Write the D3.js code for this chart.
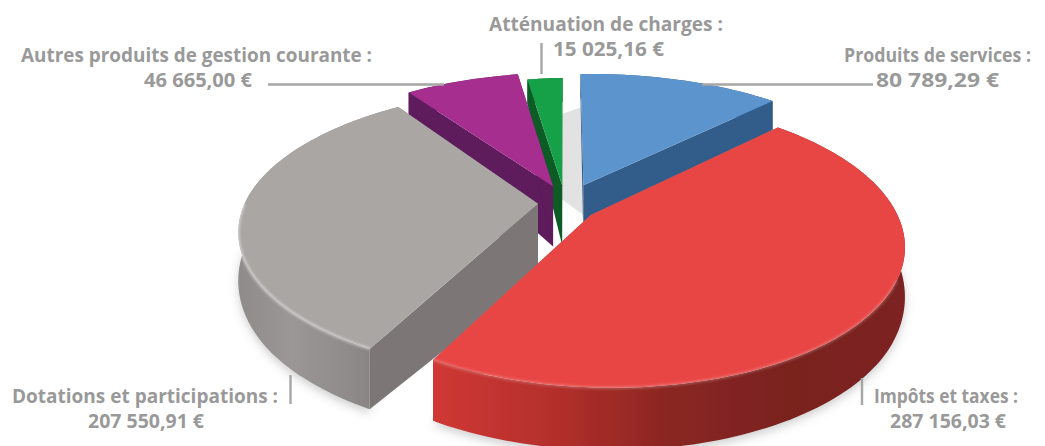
<!DOCTYPE html>
<html>
<head>
<meta charset="utf-8">
<script src="https://cdn.jsdelivr.net/npm/d3@7"></script>
<style>
html, body { margin: 0; padding: 0; background: #fff; }
svg { display: block; }
text { font-family: "Open Sans", sans-serif; font-weight: 700; fill: #999; font-size: 19px; text-anchor: middle; }
</style>
</head>
<body>
<div id="chart"></div>
<script>
// Data
var categories = ["Produits de services", "Impôts et taxes", "Dotations et participations", "Autres produits de gestion courante", "Atténuation de charges"];
var amounts = [80789.29, 287156.03, 207550.91, 46665.00, 15025.16];

// Slice styling, same order as categories
var topColors = ["#5c94cd", "#e84544", "#aaa6a4", "#a62e8e", "#17a047"];
var wallColors = ["#335c89", "#85807e", "#7b7776", "#5e1a5c", "#0f5c28"];
var sideStops = [
    ["#335c89", "#335c89"],
    ["#d03834", "#b42f2c", "#8a2622", "#7a221f", "#7c2320"],
    ["#8e8b8a", "#9a9796", "#8f8c8b", "#7f7c7b"],
    ["#5e1a5c", "#5e1a5c"],
    ["#0f5c28", "#0f5c28"]
];
// how far each slice is pulled out of the centre, and its radius
var pullX = [0.065, 0.087, -0.093, -0.042, -0.01];
var pullY = [-0.135, 0.087, 0.005, -0.126, -0.135];
var radiusX = [1.04, 0.99, 1.09, 1.07, 1];
var radiusY = [1.04, 1, 1.04, 1.07, 1];
var rimShiftX = [0, 0, 0.035, 0, 0];
var rimShiftY = [0, 0, -0.003, 0, 0];
var apexDepth = [60, 60, 72, 60, 60];
var drawOrder = [0, 4, 3, 2, 1];

// Labels: two centred lines, the second one is the amount
var labelX = [937.5, 946, 145, 196.5, 606];
var labelY = [62, 403, 403, 62, 31];
var labelWidth = [187, 144, 266, 351, 234];
var amountX = [937.5, 948, 146, 198, 608.5];
var amountWidth = [123, 116, 116, 108, 111];

// Leader lines [x1, y1, x2, y2]
var leaders = [[702, 84.5, 873, 84.5], [862, 378, 862, 405], [290.5, 375, 290.5, 404], [268, 84.5, 444, 84.5], [541.5, 43, 541.5, 74]];

var width = 1045, height = 446;
var cx = 565, cy = 203, rx = 291, ry = 134, dist = 5.24, tilt = 0.2;

var depth = d3.scaleLinear().domain([-1.15, -0.2, 0.6, 1.2]).range([24, 40, 56, 64]).clamp(true);

var euro = d3.formatLocale({ decimal: ",", thousands: "\u00a0", grouping: [3], currency: ["", "\u00a0€"] }).format("$,.2f");

// Perspective projection of a point of the pie plane
function project(X, Y, down) {
    var s = dist / (dist - Y - tilt * X);
    return [cx + rx * X * s, cy + ry * Y * s + (down || 0)];
}

var line = d3.line();

var svg = d3.select("#chart").append("svg")
    .attr("width", width)
    .attr("height", height);

var defs = svg.append("defs");
defs.append("filter").attr("id", "soft").attr("x", "-20%").attr("y", "-20%").attr("width", "140%").attr("height", "140%")
    .append("feGaussianBlur").attr("stdDeviation", 5);
defs.append("filter").attr("id", "glow").attr("x", "-20%").attr("y", "-20%").attr("width", "140%").attr("height", "140%")
    .append("feGaussianBlur").attr("stdDeviation", 1.2);
defs.append("filter").attr("id", "jpeg")
    .append("feGaussianBlur").attr("stdDeviation", 0.5);

var slices = d3.pie().sort(null)(amounts).map(function(d, i) {
    var ox = pullX[i], oy = pullY[i];
    var n = Math.max(4, Math.round((d.endAngle - d.startAngle) * 40));
    var rim = d3.range(n + 1).map(function(k) {
        var t = d.startAngle + (d.endAngle - d.startAngle) * k / n;
        return [ox + rimShiftX[i] + radiusX[i] * Math.sin(t), oy + rimShiftY[i] - radiusY[i] * Math.cos(t)];
    });
    return { i: i, apex: [ox, oy], rim: rim };
});

function onPlane(pts) {
    return pts.map(function(p) { return project(p[0], p[1]); });
}
function belowPlane(pts) {
    return pts.map(function(p) { return project(p[0], p[1], depth(p[1])); });
}

// Side gradients run across the width of each slice
sideStops.forEach(function(stops, i) {
    var xs = onPlane(slices[i].rim).map(function(p) { return p[0]; });
    var g = defs.append("linearGradient").attr("id", "side" + i)
        .attr("gradientUnits", "userSpaceOnUse")
        .attr("x1", d3.min(xs)).attr("x2", d3.max(xs)).attr("y1", 0).attr("y2", 0);
    stops.forEach(function(c, k) {
        g.append("stop").attr("offset", k / (stops.length - 1)).attr("stop-color", c);
    });
});

var pie = svg.append("g").attr("filter", "url(#jpeg)");

// Soft shadow on the ground
var shadow = pie.append("g").attr("filter", "url(#soft)").attr("opacity", 0.35);
[1, 2].forEach(function(idx) {
    var pts = belowPlane(slices[idx].rim).map(function(p) { return [p[0], p[1] + 4]; });
    shadow.append("path").attr("d", line(pts) + "Z").attr("fill", "#777");
});

// Pale strip seen through the gap behind the blue and green slices
pie.append("path")
    .attr("d", line(onPlane([[-0.012, -0.03], [-0.012, -0.76], [0.07, -0.83], [0.07, 0.1]])) + "Z")
    .attr("fill", "#e2e2e2");

drawOrder.forEach(function(idx) {
    var s = slices[idx];
    var g = pie.append("g").attr("class", "slice");
    var first = s.rim[0], last = s.rim[s.rim.length - 1];

    // cut walls
    [first, last].forEach(function(edge) {
        var top = onPlane([s.apex, edge]);
        var bottom = belowPlane([edge]).concat([project(s.apex[0], s.apex[1], apexDepth[idx])]);
        g.append("path")
            .attr("d", line(top.concat(bottom)) + "Z")
            .attr("fill", wallColors[idx]);
    });

    // outer side
    var topRim = onPlane(s.rim);
    var bottomRim = belowPlane(s.rim).reverse();
    g.append("path")
        .attr("d", line(topRim.concat(bottomRim)) + "Z")
        .attr("fill", "url(#side" + idx + ")");

    // top face
    g.append("path")
        .attr("d", line([project(s.apex[0], s.apex[1])].concat(topRim)) + "Z")
        .attr("fill", topColors[idx]);

    // bevel on the front edge of the two big slices
    if (idx === 1 || idx === 2) {
        g.append("path")
            .attr("d", line(onPlane(s.rim.filter(function(p) { return p[1] > (idx === 2 ? 0 : 0.5); }))))
            .attr("fill", "none")
            .attr("stroke", "#fff")
            .attr("stroke-opacity", idx === 2 ? 0.4 : 0.2)
            .attr("stroke-width", 3)
            .attr("filter", "url(#glow)");
    }
});

// Leader lines
svg.selectAll(".leader")
    .data(leaders)
    .enter().append("line")
    .attr("class", "leader")
    .attr("x1", function(d) { return d[0]; })
    .attr("y1", function(d) { return d[1]; })
    .attr("x2", function(d) { return d[2]; })
    .attr("y2", function(d) { return d[3]; })
    .attr("stroke", "#a6a6a6")
    .attr("stroke-width", 2.4);

// Labels
categories.forEach(function(name, i) {
    svg.append("text").attr("x", labelX[i]).attr("y", labelY[i])
        .attr("textLength", labelWidth[i]).attr("lengthAdjust", "spacingAndGlyphs")
        .text(name + " :");
    svg.append("text").attr("x", amountX[i]).attr("y", labelY[i] + 25)
        .attr("textLength", amountWidth[i]).attr("lengthAdjust", "spacingAndGlyphs")
        .text(euro(amounts[i]));
});
</script>
</body>
</html>
